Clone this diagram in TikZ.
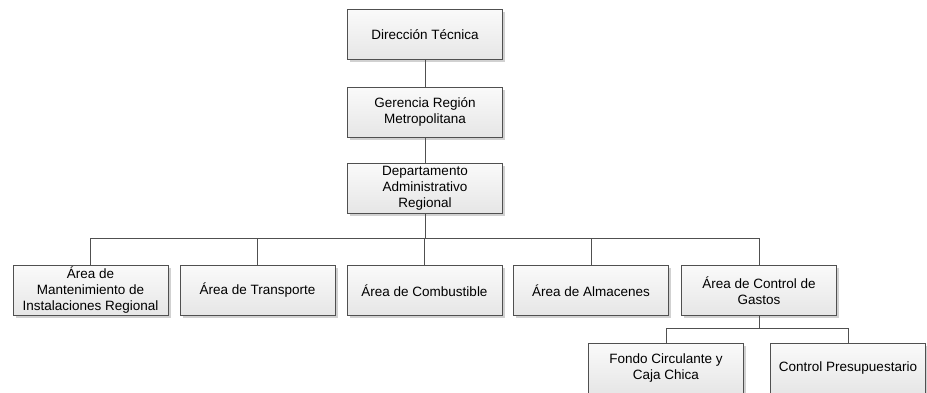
\documentclass[tikz,border=0pt]{standalone}
\usepackage{fontspec}
\setmainfont{Liberation Sans}
\usetikzlibrary{shadows}
\definecolor{boxline}{HTML}{505050}
\definecolor{topfill}{HTML}{FAFAFA}
\definecolor{botfill}{HTML}{E6E6E6}
\tikzset{
  orgbox/.style={draw=boxline, line width=0.9pt, top color=topfill, bottom color=botfill,
    minimum width=155pt, minimum height=50pt, align=center, inner sep=2pt,
    font=\fontsize{13.5}{16}\selectfont,
    drop shadow={shadow xshift=2.5pt, shadow yshift=-2.5pt, fill=black!18, opacity=1}},
  link/.style={draw=boxline, line width=0.9pt}
}
\begin{document}
\begin{tikzpicture}[x=1pt,y=-1pt]
\useasboundingbox (0,0) rectangle (927,392);
\node[orgbox] (dt) at (425,34.5) {Dirección Técnica};
\node[orgbox] (gr) at (425,112) {Gerencia Región\\Metropolitana};
\node[orgbox] (da) at (425,188) {Departamento\\Administrativo\\Regional};
\node[orgbox] (a1) at (90.5,290.5) {Área de\\Mantenimiento de\\Instalaciones Regional};
\node[orgbox] (a2) at (257.5,290.5) {Área de Transporte};
\node[orgbox] (a3) at (424.5,290.5) {Área de Combustible};
\node[orgbox] (a4) at (591,290.5) {Área de Almacenes};
\node[orgbox] (a5) at (759,290.5) {Área de Control de\\Gastos};
\node[orgbox] (f1) at (666,368.5) {Fondo Circulante y\\Caja Chica};
\node[orgbox] (f2) at (848,368.5) {Control Presupuestario};
\coordinate (bus) at (0,238);
\coordinate (bus2) at (0,328);
\draw[link] (dt) -- (gr);
\draw[link] (gr) -- (da);
\draw[link] (da.south) -- (da.south |- bus);
\draw[link] (a1.north) -- (a1.north |- bus) -- (a5.north |- bus) -- (a5.north);
\draw[link] (a2.north) -- (a2.north |- bus);
\draw[link] (a3.north) -- (a3.north |- bus);
\draw[link] (a4.north) -- (a4.north |- bus);
\draw[link] (a5.south) -- (a5.south |- bus2);
\draw[link] (f1.north) -- (f1.north |- bus2) -- (f2.north |- bus2) -- (f2.north);
\end{tikzpicture}
\end{document}
